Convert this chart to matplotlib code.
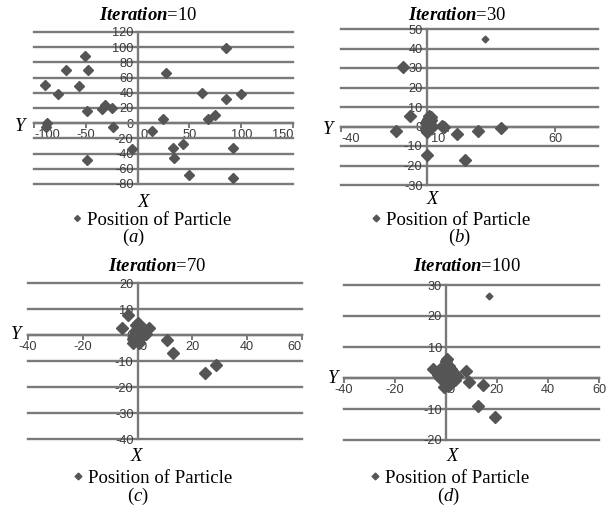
import matplotlib
matplotlib.use("Agg")
import matplotlib.pyplot as plt
from matplotlib.transforms import ScaledTranslation

# ---------------- data ----------------
iterations = [10, 30, 70, 100]
letters = ["a", "b", "c", "d"]
legend_label = "Position of Particle"

a_x = [-89.7, -87.1, -88.1, -76.8, -69.0, -50.3, -47.7, -56.5, -48.4, -34.8,
       -31.6, -24.5, -23.5, -5.8, -48.7, 13.5, 24.2, 27.4, 34.5, 35.2,
       43.5, 50.0, 61.9, 68.4, 74.8, 85.5, 85.5, 99.7, 91.9, 91.9]
a_y = [50.2, 0.9, -4.4, 38.9, 69.4, 88.2, 69.4, 48.9, 16.2, 19.2,
       23.6, 20.5, -4.4, -34.0, -48.0, -10.9, 6.1, 66.4, -32.3, -46.3,
       -27.5, -68.0, 39.7, 6.1, 10.9, 98.3, 32.3, 38.9, -33.2, -72.0]

b_x = [27.4, -10.9, -7.9, -14.4, 0.3, 17.7, 14.3, 23.9, 34.7, 7.0,
       8.2, 0.5, 1.5, 2.0, 0.0, -0.5, 1.0, 0.0, 1.0, -0.5, 0.5,
       1.5, 0.5, 2.2, 0.0, 1.2, -0.3, 1.8, 1.0, 2.0]
b_y = [44.9, 30.3, 5.5, -2.2, -14.8, -17.1, -3.9, -2.2, -0.7, 0.5,
       -0.5, 4.0, 3.0, 1.0, 1.5, -1.0, -1.5, -3.0, 2.5, 2.0, 0.0,
       0.0, -2.0, 3.5, 3.0, 1.0, -2.0, -1.0, 5.2, 4.8]

c_x = [-3.5, -5.6, 4.1, 10.8, 12.9, 24.6, 28.7, -1.7, -0.5, 1.0,
       2.2, -1.2, 0.0, 1.0, 2.0, 3.0, -0.5, 0.5, 1.0,
       0.0, 1.5, -0.8, 2.5, 0.5, -1.5]
c_y = [7.7, 2.6, 2.6, -1.9, -7.0, -14.6, -11.4, -3.2, 3.8, 2.2,
       0.6, 0.0, 4.5, 3.0, 1.5, 0.5, -1.5, -3.0, -1.0,
       2.0, -0.5, 1.5, 2.5, 0.5, -1.5]

d_x = [16.7, 7.8, 8.9, 14.6, 12.4, 19.3, -5.2, -0.7, 0.0, 1.0,
       -1.0, 2.0, 3.0, 4.2, -2.0, 0.3, 1.0, -1.0, 2.9, 0.9,
       -1.7, 2.0, 0.0, -3.0, 1.5, 3.5, -0.5, 0.5, 2.5, -2.5, 1.5, 0.3]
d_y = [26.5, 2.4, -1.2, -2.3, -9.0, -12.5, 2.9, -2.8, 5.5, 4.0,
       4.0, 3.0, 1.5, 0.6, 2.0, 3.9, 0.5, 0.5, 1.7, -2.6,
       2.8, -0.5, -1.0, 1.0, 2.0, -0.5, 1.5, -1.5, 0.5, 0.0, -2.0, 6.2]

a_xticks = [-100, -50, 0, 50, 100, 150]
a_yticks = [-80, -60, -40, -20, 0, 20, 40, 60, 80, 100, 120]
b_xticks = [-40, 10, 60]
b_yticks = [-30, -20, -10, 0, 10, 20, 30, 40, 50]
c_xticks = [-40, -20, 0, 20, 40, 60]
c_yticks = [-40, -30, -20, -10, 0, 10, 20]
d_xticks = [-40, -20, 0, 20, 40, 60]
d_yticks = [-20, -10, 0, 10, 20, 30]

a_xlim, a_ylim = (-100, 150), (-80, 120)
b_xlim, b_ylim = (-40, 80), (-30, 50)
c_xlim, c_ylim = (-40, 60), (-40, 20)
d_xlim, d_ylim = (-40, 60), (-20, 30)

# ---------------- style ----------------
W, H = 613, 512
GRID = "#7a7a7a"
MK = "#555555"
TXT = "#3a3a3a"
SERIF = "Liberation Serif"
TICK_FS = 9.2

plt.rcParams["font.family"] = ["Liberation Sans", "DejaVu Sans"]
plt.rcParams["axes.unicode_minus"] = False
plt.rcParams["mathtext.fontset"] = "custom"
plt.rcParams["mathtext.rm"] = SERIF
plt.rcParams["mathtext.it"] = SERIF + ":italic"
plt.rcParams["mathtext.bf"] = SERIF + ":bold"
plt.rcParams["mathtext.bfit"] = SERIF + ":italic:bold"

fig = plt.figure(figsize=(W / 100, H / 100), dpi=100)
fig.patch.set_facecolor("white")


def fx(px):
    return px / W


def fy(py):
    return 1 - py / H


def rect(x0, y0, x1, y1):
    return [x0 / W, 1 - y1 / H, (x1 - x0) / W, (y1 - y0) / H]


def px_shift(dx):
    return ScaledTranslation(dx / 100.0, 0, fig.dpi_scale_trans)


panels = [
    dict(xs=a_x, ys=a_y, xlim=a_xlim, ylim=a_ylim, xt=a_xticks, yt=a_yticks,
         rect=(34, 32, 293, 184), ms=5.0, small=(),
         title=(148, 20), ylab=(20, 131), xlab=(143.5, 207),
         leg=(71, 220), cap=(133, 242),
         adj={-100: ("left", 0), 150: ("right", 0), 0: ("center", 6)}),
    dict(xs=b_x, ys=b_y, xlim=b_xlim, ylim=b_ylim, xt=b_xticks, yt=b_yticks,
         rect=(341, 29, 598, 185), ms=5.7, small=(0,),
         title=(457, 20), ylab=(328, 134), xlab=(432.5, 204),
         leg=(370, 220), cap=(459, 242),
         adj={-40: ("left", 0), 10: ("center", -10)}),
    dict(xs=c_x, ys=c_y, xlim=c_xlim, ylim=c_ylim, xt=c_xticks, yt=c_yticks,
         rect=(28, 283, 302, 439), ms=5.7, small=(),
         title=(157, 271), ylab=(16, 339), xlab=(136.5, 461),
         leg=(72, 478), cap=(138, 501),
         adj={0: ("center", 5), 60: ("right", 0)}),
    dict(xs=d_x, ys=d_y, xlim=d_xlim, ylim=d_ylim, xt=d_xticks, yt=d_yticks,
         rect=(344, 285, 599, 440), ms=5.7, small=(0,),
         title=(467, 271), ylab=(333, 383), xlab=(452.5, 461),
         leg=(369.5, 478), cap=(448, 501),
         adj={0: ("center", 5)}),
]

for p, it, let in zip(panels, iterations, letters):
    ax = fig.add_axes(rect(*p["rect"]))
    ax.patch.set_visible(False)
    ax.set_xlim(p["xlim"])
    ax.set_ylim(p["ylim"])
    for s in ("top", "right"):
        ax.spines[s].set_visible(False)
    ax.spines["left"].set_position(("data", 0))
    ax.spines["bottom"].set_position(("data", 0))
    for s in ("left", "bottom"):
        ax.spines[s].set_color(GRID)
        ax.spines[s].set_linewidth(1.7)
        ax.spines[s].set_zorder(2)
    ax.set_xticks(p["xt"])
    ax.set_yticks(p["yt"])
    ax.yaxis.grid(True, color=GRID, linewidth=1.7)
    ax.set_axisbelow(True)
    ax.tick_params(axis="y", length=0, pad=3, labelsize=TICK_FS, labelcolor=TXT)
    ax.tick_params(axis="x", length=3.5, width=1.4, color=GRID, direction="out",
                   pad=1, labelsize=TICK_FS, labelcolor=TXT)
    for gl in ax.get_ygridlines():
        gl.set_clip_on(False)

    xs, ys = p["xs"], p["ys"]
    big = [i for i in range(len(xs)) if i not in p["small"]]
    small = [i for i in range(len(xs)) if i in p["small"]]
    ax.plot([xs[i] for i in big], [ys[i] for i in big], ls="none", marker="D",
            ms=p["ms"], color=MK, mec=MK, label=legend_label, zorder=3, clip_on=False)
    if small:
        ax.plot([xs[i] for i in small], [ys[i] for i in small], ls="none", marker="D",
                ms=p["ms"] * 0.6, color=MK, mec=MK, zorder=3, clip_on=False)

    # tick label alignment tweaks (Excel-like)
    for tick, val in zip(ax.xaxis.get_major_ticks(), p["xt"]):
        if val in p["adj"]:
            ha, dx = p["adj"][val]
            tick.label1.set_ha(ha)
            if dx:
                tick.label1.set_transform(tick.label1.get_transform() + px_shift(dx))

    ax.legend(loc="center left", bbox_to_anchor=(fx(p["leg"][0]), fy(p["leg"][1])),
              bbox_transform=fig.transFigure, frameon=False, borderpad=0,
              borderaxespad=0, handlelength=0.6, handletextpad=0.25,
              markerscale=0.6, numpoints=1,
              prop={"family": SERIF, "size": 13.5})

    fig.text(fx(p["title"][0]), fy(p["title"][1]), r"$\mathbfit{Iteration}$=%d" % it,
             ha="center", va="baseline", fontsize=13.5, family=SERIF)
    fig.text(fx(p["ylab"][0]), fy(p["ylab"][1]), "Y", style="italic",
             ha="center", va="baseline", fontsize=13.5, family=SERIF)
    fig.text(fx(p["xlab"][0]), fy(p["xlab"][1]), "X", style="italic",
             ha="center", va="baseline", fontsize=13.5, family=SERIF)
    fig.text(fx(p["cap"][0]), fy(p["cap"][1]), r"($\mathit{%s}$)" % let,
             ha="center", va="baseline", fontsize=13.5, family=SERIF)

fig.savefig("out.png", dpi=100, facecolor="white")
